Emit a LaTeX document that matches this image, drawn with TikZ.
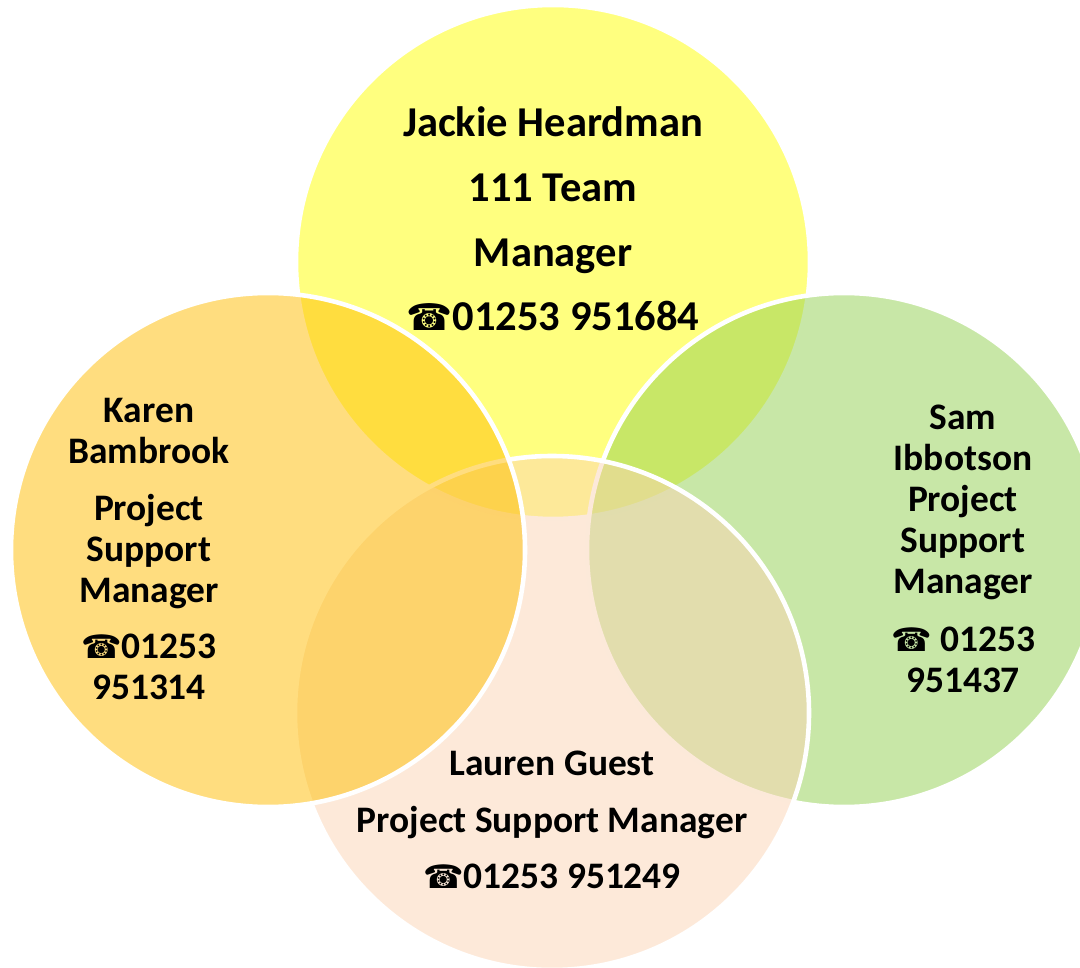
\documentclass[tikz,border=0pt]{standalone}
\usepackage{fontspec}
\setmainfont{Carlito}
\newfontfamily\phonefont[Scale=0.87]{DejaVu Sans}
\usetikzlibrary{math}
\definecolor{topfill}{HTML}{FFFF00}
\definecolor{rightfill}{HTML}{92D050}
\definecolor{lowfill}{HTML}{FBD4B4}
\definecolor{leftfill}{HTML}{FFBC00}
\newcommand{\phone}{{\phonefont\symbol{"260E}}}
\tikzstyle{petal} = [draw=white, line width=1.3pt, fill opacity=0.5, draw opacity=1]
\tikzstyle{bigname} = [align=center, inner sep=0pt, font=\bfseries\fontsize{12.1}{18.4}\selectfont]
\tikzstyle{midname} = [align=center, inner sep=0pt, font=\bfseries\fontsize{10.65}{11.7}\selectfont]
\tikzstyle{lowname} = [align=center, inner sep=0pt, font=\bfseries\fontsize{10.65}{16.15}\selectfont]

\begin{document}
\begin{tikzpicture}

  \tikzmath{\rad = 2.57; \xmax = 10.8; \ymax = 9.67;}

  \clip (0,0) rectangle (\xmax,\ymax);

  \draw[petal, fill=topfill] (5.53,7.05) circle (\rad);
  \draw[petal, fill=rightfill] (8.44,4.17) circle (\rad);
  \draw[petal, fill=lowfill] (5.52,2.54) circle (\rad);
  \draw[petal, fill=leftfill] (2.68,4.17) circle (\rad);

  \node[bigname] (jackie) at (5.53,7.48) {Jackie Heardman\\111 Team\\Manager\\\phone01253 951684};
  \node[midname] (karen) at (1.49,4.18) {Karen\\Bambrook\\[4.3pt]Project\\Support\\Manager\\[4.2pt]\phone01253\\951314};
  \node[midname] (sam) at (9.63,4.18) {Sam\\Ibbotson\\Project\\Support\\Manager\\[4.8pt]\phone{} 01253\\951437};
  \node[lowname] (lauren) at (5.52,1.47) {Lauren Guest\\Project Support Manager\\\phone01253 951249};

\end{tikzpicture}
\end{document}
